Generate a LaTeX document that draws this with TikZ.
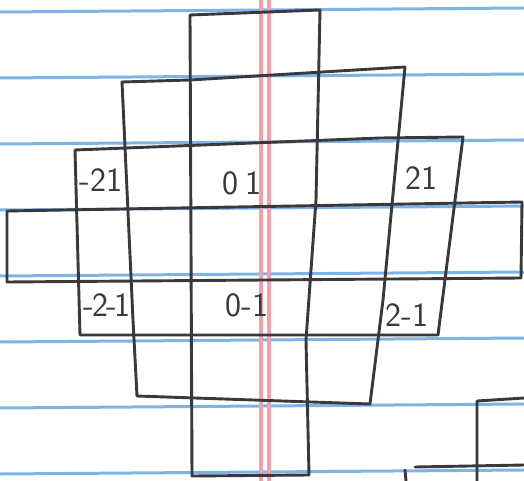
\documentclass[tikz,border=0pt]{standalone}
\usepackage{tikz}
\usetikzlibrary{calc}
\usepackage{xcolor}
\definecolor{penink}{RGB}{58,56,58}
\definecolor{ruleblue}{RGB}{125,180,232}
\definecolor{marginred}{RGB}{244,160,170}

\begin{document}
\begin{tikzpicture}[x=1pt,y=-1pt,
    pen/.style={penink,line width=2.9pt,line join=round,line cap=round},
    ruling/.style={ruleblue,line width=3pt},
    margin/.style={marginred,line width=3.6pt},
    cell/.style={font=\sffamily\fontsize{34}{36}\selectfont,text=penink,inner sep=0pt}]
    \useasboundingbox (0,0) rectangle (524,481);
    \fill[white] (0,0) rectangle (524,481);

    % Ruled paper
    \foreach \k in {0,...,7}
        \draw[ruling] (0,{12+66*\k}) -- (524,{8+66*\k});

    % Margin lines
    \draw[margin] (261,0) -- (261,481);
    \draw[margin] (269,0) -- (269,481);

    % Tall box
    \draw[pen] (190,15) -- (320,10) -- (316,200) -- (306,340) -- (309,475) -- (192,476) -- cycle;

    % Middle box
    \draw[pen] (122,82) -- (190,80) -- (405,67) -- (383,300) -- (370,404) -- (137,396) -- (133,320) -- cycle;

    % Wide box
    \draw[pen] (75,150) -- (380,138) -- (463,137) -- (438,335) -- (80,335) -- cycle;

    % Long strip
    \draw[pen] (7,211) -- (522,202) -- (521,278) -- (7,282) -- cycle;

    % Corner pieces
    \draw[pen] (477,481) -- (477,401) -- (524,398);
    \draw[pen] (415,467) -- (524,465);
    \draw[pen] (405,470) -- (406,481);

    % Cell labels
    \node[cell] (mtwoone) at (101,180) {-21};
    \node[cell] (zeroone) at (242,183) {0\hspace{8pt}1};
    \node[cell] (twoone) at (421,178) {21};
    \node[cell] (mtwomone) at (107,305) {-\kern-2pt2\kern-2pt-\kern-2pt1};
    \node[cell] (zeromone) at (247,305) {0-1};
    \node[cell] (twomone) at (407,315) {2-1};
\end{tikzpicture}
\end{document}
